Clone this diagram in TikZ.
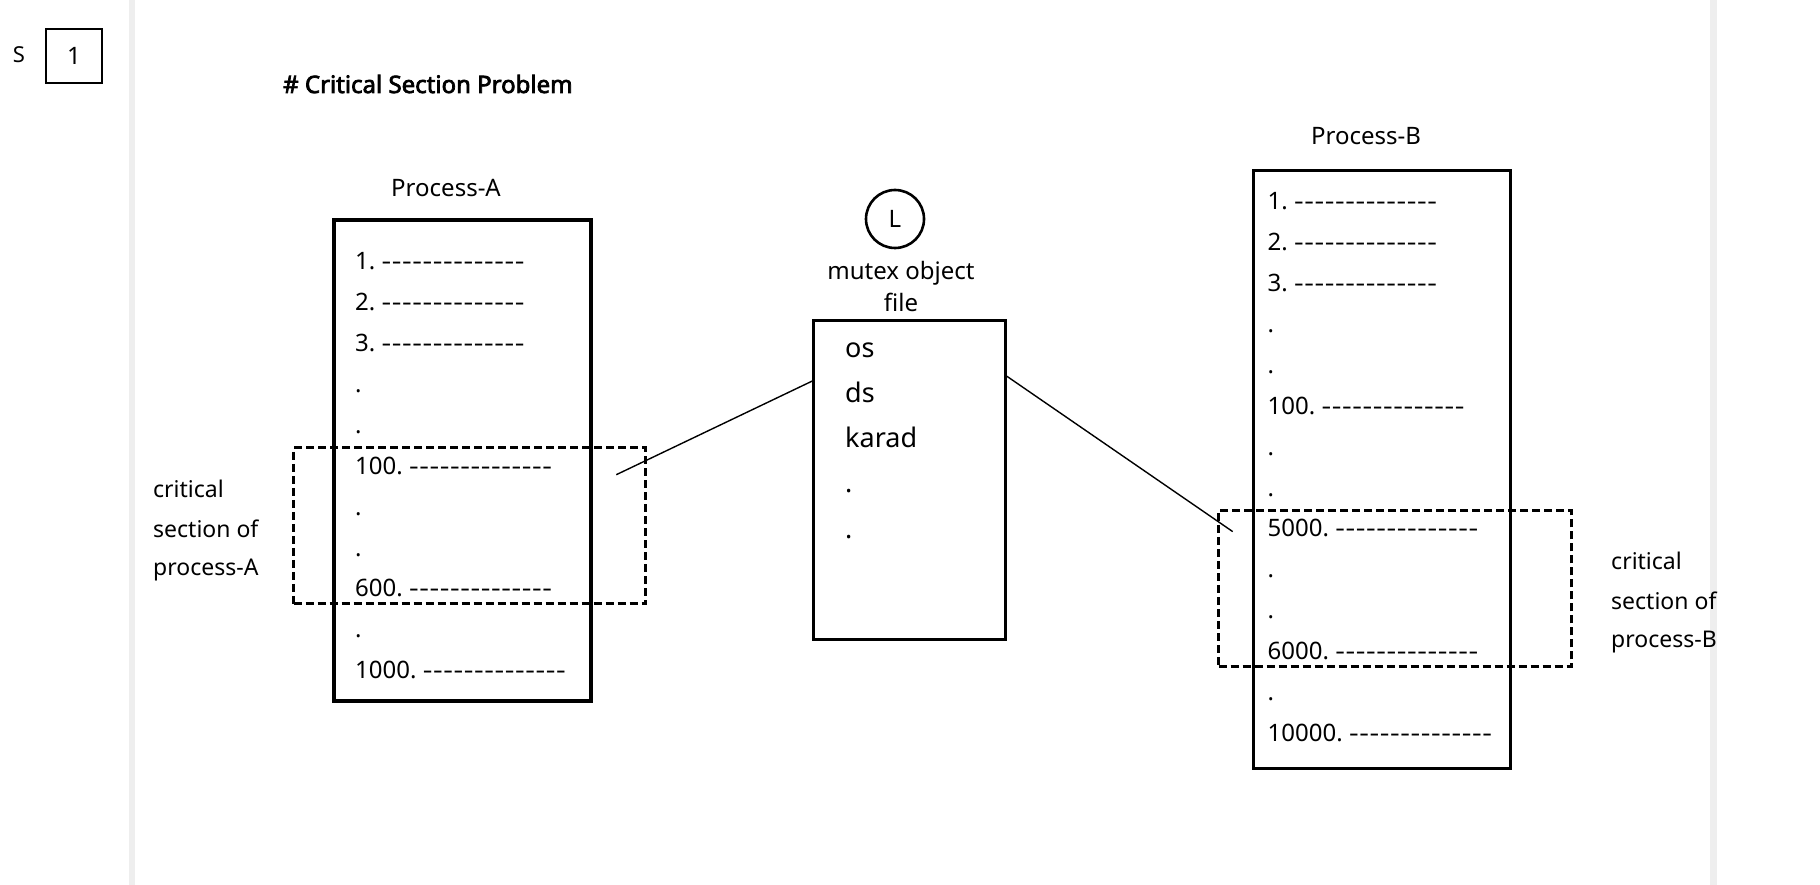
\documentclass[tikz,border=0pt]{standalone}
\usepackage{fontspec}
\usepackage{graphicx}
\setmainfont{Noto Sans}
\newfontfamily\titlefont{Noto Sans}[FakeBold=3]
\usetikzlibrary{calc}
\definecolor{barcol}{HTML}{EEEEEE}
\newcommand\hy{\scalebox{1.25}[1]{-}}
\newcommand\dashrun{\hbox to 143pt{\hy\hfil\hy\hfil\hy\hfil\hy\hfil\hy\hfil\hy\hfil\hy\hfil\hy\hfil\hy\hfil\hy\hfil\hy\hfil\hy\hfil\hy\hfil\hy}}
\newcommand\fsz[1]{\fontsize{#1}{#1}\selectfont}
\tikzset{
  solidbox/.style={draw, line width=3.2pt, inner sep=0pt},
  critbox/.style={draw, line width=2.8pt, dash pattern=on 8pt off 4pt, inner sep=0pt},
  rowtext/.style={anchor=base west, inner sep=0pt, font=\fsz{24}},
  lbl/.style={inner sep=0pt, font=\fsz{24}},
  sidelbl/.style={anchor=west, inner sep=0pt, font=\fsz{23}, align=left},
  link/.style={line width=1.4pt}
}
\begin{document}
\begin{tikzpicture}[x=1pt, y=-1pt]
\useasboundingbox (0,0) rectangle (1820,885);
% page rails
\fill[barcol] (129,0) rectangle (135,885);
\fill[barcol] (1710,0) rectangle (1717,885);
% header
\node[lbl, font=\fsz{22}] (s) at (19,55) {S};
\node[solidbox, line width=2.8pt, minimum width=56pt, minimum height=54pt, font=\fsz{24}] (one) at (74,56) {1};
\node[anchor=west, inner sep=0pt, font=\titlefont\fsz{24}] (title) at (283,84) {\# Critical Section Problem};
% Process A
\node[lbl] (pa) at (446,188) {Process-A};
\node[solidbox, minimum width=257pt, minimum height=481pt] (boxA) at (462.5,460.5) {};
\foreach \t [count=\i from 0] in {1.\ \dashrun, 2.\ \dashrun, 3.\ \dashrun, ., ., 100.\ \dashrun, ., ., 600.\ \dashrun, ., 1000.\ \dashrun}
  \node[rowtext] (a\i) at (355,{270+\i*40.86}) {\t};
\node[critbox, minimum width=352pt, minimum height=156pt] (critA) at (469.5,525.8) {};
\node[sidelbl] (la1) at (153,488.7) {critical};
\node[sidelbl] (la2) at (153,529.3) {section of};
\node[sidelbl] (la3) at (153,569.9) {process-A};
% mutex
\node[draw, circle, line width=2.6pt, minimum size=58pt, inner sep=0pt, font=\fsz{24}] (lock) at (895,219) {L};
\node[lbl] (mut1) at (901,273) {mutex object};
\node[lbl] (mut2) at (901,302) {file};
\node[solidbox, minimum width=191.5pt, minimum height=319pt] (mutex) at (909.5,480) {};
\foreach \t [count=\i from 0] in {os, ds, karad, ., .}
  \node[rowtext, font=\fsz{27}] (m\i) at (845,{357+\i*45.3}) {\t};
% Process B
\node[lbl] (pb) at (1366,136) {Process-B};
\node[solidbox, minimum width=256.5pt, minimum height=598pt] (boxB) at (1381.9,469.5) {};
\foreach \t [count=\i from 0] in {1.\ \dashrun, 2.\ \dashrun, 3.\ \dashrun, ., ., 100.\ \dashrun, ., ., 5000.\ \dashrun, ., ., 6000.\ \dashrun, ., 10000.\ \dashrun}
  \node[rowtext] (b\i) at (1267.5,{210+\i*40.86}) {\t};
\node[critbox, minimum width=353pt, minimum height=155.5pt] (critB) at (1395.2,588.5) {};
\node[sidelbl] (lb1) at (1611,560.6) {critical};
\node[sidelbl] (lb2) at (1611,601.2) {section of};
\node[sidelbl] (lb3) at (1611,641.9) {process-B};
% connectors
\coordinate (ca) at (616.3,474.7);
\coordinate (cb) at (1232.7,531.6);
\draw[link] (ca) -- ($(mutex.north west)!0.193!(mutex.south west)$);
\draw[link] ($(mutex.north east)!0.178!(mutex.south east)$) -- (cb);
\end{tikzpicture}
\end{document}
